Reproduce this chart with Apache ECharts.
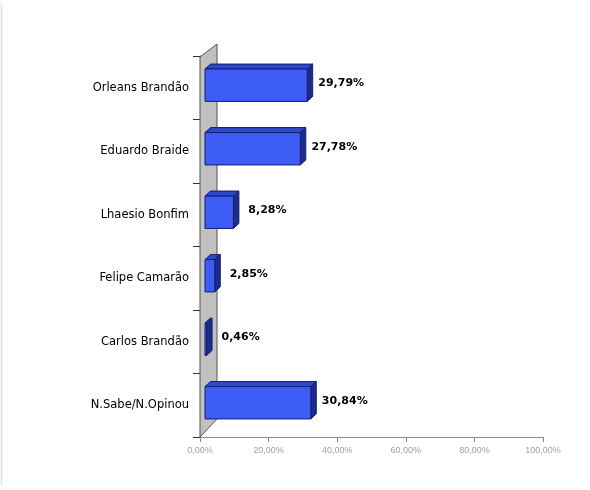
<!DOCTYPE html>
<html><head><meta charset="utf-8">
<script src="https://cdn.jsdelivr.net/npm/echarts@6/dist/echarts.min.js"></script>
<style>html,body{margin:0;padding:0;background:#fff}#c{width:590px;height:490px}</style>
</head><body><div id="c"></div>
<script>
const categories = ['Orleans Brandão','Eduardo Braide','Lhaesio Bonfim','Felipe Camarão','Carlos Brandão','N.Sabe/N.Opinou'];
const values = [29.79, 27.78, 8.28, 2.85, 0.46, 30.84];
const valueLabels = ['29,79%','27,78%','8,28%','2,85%','0,46%','30,84%'];
const tickLabels = ['0,00%','20,00%','40,00%','60,00%','80,00%','100,00%'];

const chart = echarts.init(document.getElementById('c'), null, {renderer:'canvas'});
const DX = 5.5, DY = -5;
function renderBar(params, api){
  const v = api.value(0), cat = api.value(1);
  const p0 = api.coord([0, cat]), p1 = api.coord([v, cat]);
  const band = api.size([0,1])[1];
  const h = band*0.51;
  const x0 = p0[0]+5, x1 = p1[0]+5, yc = p0[1]-2.5;
  const t = yc-h/2, b = yc+h/2;
  const stroke = '#15206a';
  return {type:'group', children:[
    {type:'polygon', shape:{points:[[x0,t],[x0+DX,t+DY],[x1+DX,t+DY],[x1,t]]}, style:{fill:'#2f47c9', stroke:stroke, lineWidth:1}},
    {type:'polygon', shape:{points:[[x1,t],[x1+DX,t+DY],[x1+DX,b+DY],[x1,b]]}, style:{fill:'#1d2b8c', stroke:stroke, lineWidth:1}},
    {type:'rect', shape:{x:x0,y:t,width:Math.max(x1-x0,0),height:h}, style:{fill:'#3d5cf6', stroke:stroke, lineWidth:1}},
    {type:'text', x:x1+34, y:yc-2, style:{text:valueLabels[params.dataIndex], fill:'#000', font:'bold 11px "DejaVu Sans"', verticalAlign:'middle', align:'center'}}
  ]};
}
function renderWall(params, api){
  const band = api.size([0,1])[1];
  const a = api.coord([0,0]), z = api.coord([0,categories.length-1]);
  const x = a[0], top = a[1]-band/2, bot = z[1]+band/2;
  return {type:'polygon', shape:{points:[[x,top+1],[x+17,top-12],[x+17,bot-18],[x,bot]]}, style:{fill:'#c0c0c0', stroke:'#555', lineWidth:1}};
}
chart.setOption({
  animation:false,
  backgroundColor:'#fff',
  grid:{left:200, right:47, top:56, bottom:53},
  xAxis:{type:'value', min:0, max:100, interval:20,
    axisLine:{show:true, lineStyle:{color:'#888'}}, axisTick:{show:true, length:5, lineStyle:{color:'#888'}},
    splitLine:{show:false},
    axisLabel:{color:'#a0a0a0', fontSize:9, fontFamily:'"Liberation Sans", Arial', margin:9, formatter:(v,i)=>tickLabels[Math.round(v/20)]}},
  yAxis:{type:'category', data:categories, inverse:true,
    axisLine:{show:true, lineStyle:{color:'#333'}}, axisTick:{show:true, length:7, lineStyle:{color:'#333'}},
    axisLabel:{color:'#000', fontSize:11.5, fontFamily:'"DejaVu Sans"', margin:11}},
  graphic:[{type:'line', shape:{x1:1.5,y1:5,x2:1.5,y2:485}, style:{stroke:'#ddd', lineWidth:1.5}}],
  series:[
    {type:'custom', renderItem:renderWall, data:[[0,0]], encode:{x:0,y:1}, z:1, silent:true},
    {type:'custom', renderItem:renderBar, data:values.map((v,i)=>[v,i]), encode:{x:0,y:1}, z:3}
  ]
});
</script></body></html>
